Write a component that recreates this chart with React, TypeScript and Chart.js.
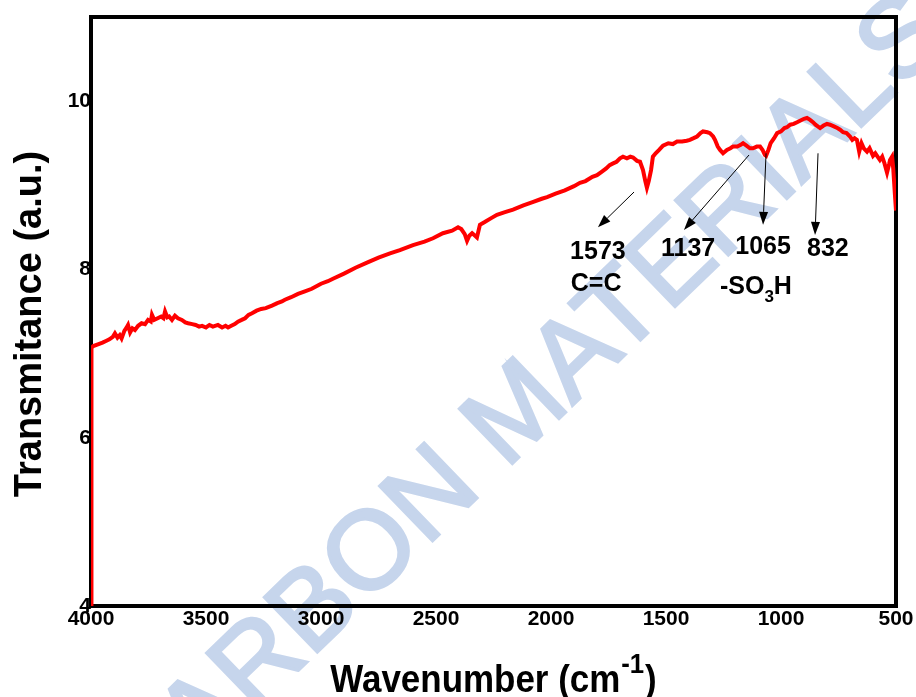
import React, { useEffect, useRef } from "react";
import { Chart, registerables } from "chart.js";

Chart.register(...registerables);

// ---- data ----
const wavenumbers = [
  4000, 3998, 3990, 3970, 3950, 3935, 3920, 3905, 3896, 3885, 3875, 3867, 3855, 3845, 3839, 3830, 3820, 3809,
  3795, 3780, 3765, 3752, 3740, 3735, 3725, 3710, 3695, 3685, 3678, 3668, 3660, 3648, 3635, 3622, 3605, 3590,
  3578, 3560, 3545, 3530, 3517, 3500, 3485, 3470, 3448, 3430, 3415, 3404, 3390, 3375, 3361, 3345, 3330, 3315,
  3300, 3280, 3260, 3240, 3213, 3190, 3170, 3157, 3130, 3100, 3070, 3040, 3000, 2970, 2948, 2900, 2850, 2800,
  2750, 2700, 2657, 2600, 2550, 2513, 2470, 2430, 2404, 2390, 2375, 2365, 2355, 2343, 2330, 2322, 2309, 2290,
  2260, 2235, 2200, 2165, 2120, 2080, 2040, 2017, 1980, 1940, 1900, 1874, 1850, 1820, 1800, 1780, 1760, 1745,
  1730, 1715, 1700, 1687, 1670, 1655, 1643, 1626, 1613, 1600, 1590, 1583, 1575, 1565, 1557, 1545, 1530, 1513,
  1490, 1470, 1452, 1430, 1410, 1396, 1380, 1365, 1350, 1339, 1320, 1309, 1295, 1287, 1275, 1265, 1252, 1235,
  1220, 1209, 1190, 1175, 1165, 1150, 1135, 1122, 1105, 1091, 1080, 1070, 1065, 1055, 1045, 1030, 1017, 1000,
  985, 974, 960, 945, 930, 915, 900, 887, 875, 861, 850, 840, 830, 815, 800, 787, 770, 755, 743, 730, 715, 700,
  690, 680, 670, 660, 650, 640, 626, 615, 600, 590, 570, 560, 550, 539, 530, 526, 517, 512, 505, 500,
];
const transmittance = [
  4.0, 7.07, 7.09, 7.11, 7.13, 7.15, 7.17, 7.2, 7.24, 7.19, 7.22, 7.18, 7.27, 7.31, 7.34, 7.25, 7.3, 7.28,
  7.33, 7.36, 7.35, 7.4, 7.38, 7.46, 7.4, 7.42, 7.44, 7.42, 7.5, 7.43, 7.44, 7.4, 7.45, 7.42, 7.4, 7.37,
  7.36, 7.35, 7.34, 7.32, 7.33, 7.31, 7.34, 7.32, 7.34, 7.31, 7.33, 7.31, 7.33, 7.35, 7.38, 7.4, 7.42, 7.46,
  7.48, 7.51, 7.53, 7.54, 7.57, 7.6, 7.62, 7.64, 7.67, 7.71, 7.74, 7.77, 7.83, 7.86, 7.89, 7.95, 8.02, 8.08,
  8.14, 8.19, 8.23, 8.29, 8.33, 8.37, 8.43, 8.46, 8.5, 8.48, 8.42, 8.34, 8.4, 8.43, 8.4, 8.38, 8.53, 8.56,
  8.61, 8.65, 8.68, 8.71, 8.76, 8.8, 8.84, 8.86, 8.9, 8.94, 8.99, 9.03, 9.05, 9.1, 9.12, 9.16, 9.2, 9.24,
  9.26, 9.28, 9.32, 9.34, 9.32, 9.34, 9.33, 9.29, 9.28, 9.18, 9.05, 8.97, 9.05, 9.18, 9.34, 9.38, 9.42, 9.47,
  9.5, 9.49, 9.52, 9.52, 9.53, 9.54, 9.56, 9.58, 9.62, 9.64, 9.63, 9.62, 9.58, 9.54, 9.46, 9.42, 9.38, 9.42,
  9.44, 9.46, 9.46, 9.48, 9.5, 9.47, 9.44, 9.44, 9.46, 9.46, 9.42, 9.36, 9.35, 9.42, 9.5, 9.56, 9.62, 9.64,
  9.68, 9.69, 9.72, 9.73, 9.75, 9.77, 9.79, 9.8, 9.78, 9.75, 9.72, 9.7, 9.68, 9.71, 9.73, 9.72, 9.7, 9.68, 9.66, 9.63, 9.62, 9.58,
  9.54, 9.56, 9.54, 9.4, 9.5, 9.44, 9.4, 9.44, 9.35, 9.38, 9.3, 9.34, 9.26, 9.15, 9.25, 9.3, 9.34, 9.2, 8.9, 8.7,
];
const xTickValues = [4000, 3500, 3000, 2500, 2000, 1500, 1000, 500];
const yTickValues = [4, 6, 8, 10];

// peak annotations: label text, arrow tail/head (wavenumber, value), label anchor
const peakLabels = ["1573", "1137", "1065", "832"];
const peakArrowFrom = [[1639, 8.92], [1139, 9.36], [1065, 9.38], [839, 9.38]];
const peakArrowTo = [[1796, 8.5], [1422, 8.47], [1078, 8.53], [852, 8.41]];
const peakLabelAt = [[1796, 8.21], [1404, 8.24], [1078, 8.27], [796, 8.24]];
const groupLabelC = "C=C";
const groupLabelCAt = [1804, 7.82];
const groupLabelS = ["-SO", "3", "H"];
const groupLabelSAt = [1109, 7.82];

const xTitle = ["Wavenumber (cm", "-1", ")"];
const yTitle = "Transmitance (a.u.)";
const watermark = "CARBON MATERIALS";

const FONT = '"Liberation Sans", Arial, Helvetica, sans-serif';

function drawArrow(ctx: CanvasRenderingContext2D, x1: number, y1: number, x2: number, y2: number) {
  const ang = Math.atan2(y2 - y1, x2 - x1);
  const len = 13;
  const hw = 4.5;
  const bx = x2 - len * Math.cos(ang);
  const by = y2 - len * Math.sin(ang);
  ctx.beginPath();
  ctx.moveTo(x1, y1);
  ctx.lineTo(bx, by);
  ctx.stroke();
  ctx.beginPath();
  ctx.moveTo(x2, y2);
  ctx.lineTo(bx + hw * Math.sin(ang), by - hw * Math.cos(ang));
  ctx.lineTo(bx - hw * Math.sin(ang), by + hw * Math.cos(ang));
  ctx.closePath();
  ctx.fill();
}

const overlayPlugin = {
  id: "overlay",
  beforeDraw(chart: any) {
    const ctx: CanvasRenderingContext2D = chart.ctx;
    ctx.save();
    ctx.fillStyle = "#ffffff";
    ctx.fillRect(0, 0, chart.width, chart.height);
    ctx.translate(526, 408);
    ctx.rotate((-44 * Math.PI) / 180);
    ctx.font = `111px ${FONT}`;
    ctx.fillStyle = "#c6d5ec";
    ctx.strokeStyle = "#c6d5ec";
    ctx.lineWidth = 3;
    ctx.textAlign = "center";
    ctx.textBaseline = "middle";
    ctx.fillText(watermark, 0, 0);
    ctx.strokeText(watermark, 0, 0);
    ctx.restore();
  },
  beforeDatasetsDraw(chart: any) {
    const ctx: CanvasRenderingContext2D = chart.ctx;
    const a = chart.chartArea;
    ctx.save();
    ctx.strokeStyle = "#000";
    ctx.lineWidth = 4;
    ctx.strokeRect(a.left, a.top, a.right - a.left, a.bottom - a.top);
    ctx.restore();
  },
  afterDraw(chart: any) {
    const ctx: CanvasRenderingContext2D = chart.ctx;
    const x = chart.scales.x;
    const y = chart.scales.y;
    const a = chart.chartArea;
    ctx.save();
    ctx.strokeStyle = "#000";
    ctx.fillStyle = "#000";
    ctx.lineWidth = 1;
    for (let i = 0; i < peakLabels.length; i++) {
      drawArrow(
        ctx,
        x.getPixelForValue(peakArrowFrom[i][0]),
        y.getPixelForValue(peakArrowFrom[i][1]),
        x.getPixelForValue(peakArrowTo[i][0]),
        y.getPixelForValue(peakArrowTo[i][1])
      );
    }
    ctx.font = `bold 25px ${FONT}`;
    ctx.textAlign = "center";
    ctx.textBaseline = "middle";
    for (let i = 0; i < peakLabels.length; i++) {
      ctx.fillText(peakLabels[i], x.getPixelForValue(peakLabelAt[i][0]), y.getPixelForValue(peakLabelAt[i][1]));
    }
    ctx.fillText(groupLabelC, x.getPixelForValue(groupLabelCAt[0]), y.getPixelForValue(groupLabelCAt[1]));
    // -SO3H with subscript
    {
      const fMain = `bold 25px ${FONT}`;
      const fSub = `bold 17px ${FONT}`;
      ctx.font = fMain;
      const w1 = ctx.measureText(groupLabelS[0]).width;
      const w3 = ctx.measureText(groupLabelS[2]).width;
      ctx.font = fSub;
      const w2 = ctx.measureText(groupLabelS[1]).width;
      const cx = x.getPixelForValue(groupLabelSAt[0]);
      const cy = y.getPixelForValue(groupLabelSAt[1]);
      let sx = cx - (w1 + w2 + w3) / 2;
      ctx.textAlign = "left";
      ctx.textBaseline = "alphabetic";
      const base = cy + 9;
      ctx.font = fMain;
      ctx.fillText(groupLabelS[0], sx, base);
      sx += w1;
      ctx.font = fSub;
      ctx.fillText(groupLabelS[1], sx, base + 8);
      sx += w2;
      ctx.font = fMain;
      ctx.fillText(groupLabelS[2], sx, base);
    }
    // y title
    ctx.save();
    ctx.translate(31, 324);
    ctx.rotate(-Math.PI / 2);
    ctx.font = `bold 38px ${FONT}`;
    ctx.textAlign = "center";
    ctx.textBaseline = "middle";
    ctx.fillText(yTitle, 0, 0);
    ctx.restore();
    // x title with superscript
    {
      const fMain = `bold 38px ${FONT}`;
      const fSup = `bold 28px ${FONT}`;
      const sxScale = 0.92;
      ctx.font = fMain;
      const w1 = ctx.measureText(xTitle[0]).width;
      const w3 = ctx.measureText(xTitle[2]).width;
      ctx.font = fSup;
      const w2 = ctx.measureText(xTitle[1]).width + 2;
      const total = (w1 + w2 + w3) * sxScale;
      const cx = (a.left + a.right) / 2;
      ctx.save();
      ctx.translate(cx - total / 2, 692);
      ctx.scale(sxScale, 1);
      ctx.textAlign = "left";
      ctx.textBaseline = "alphabetic";
      ctx.font = fMain;
      ctx.fillText(xTitle[0], 0, 0);
      ctx.font = fSup;
      ctx.fillText(xTitle[1], w1 + 1, -19);
      ctx.font = fMain;
      ctx.fillText(xTitle[2], w1 + w2, 0);
      ctx.restore();
    }
    ctx.restore();
  },
};

export default function App() {
  const canvasRef = useRef<HTMLCanvasElement | null>(null);

  useEffect(() => {
    const canvas = canvasRef.current;
    if (!canvas) return;
    const points = wavenumbers.map((w, i) => ({ x: w, y: transmittance[i] }));
    const chart = new Chart(canvas, {
      type: "line",
      data: {
        datasets: [
          {
            data: points,
            borderColor: "#ff0000",
            borderWidth: 4,
            pointRadius: 0,
            tension: 0,
            fill: false,
          },
        ],
      },
      options: {
        animation: false,
        responsive: false,
        devicePixelRatio: 1,
        parsing: false as any,
        layout: { padding: { top: 17, right: 20, bottom: 0, left: 0 } },
        plugins: { legend: { display: false }, tooltip: { enabled: false } },
        scales: {
          x: {
            type: "linear",
            min: 500,
            max: 4000,
            reverse: true,
            grid: { display: false, drawTicks: false },
            border: { display: false },
            afterBuildTicks: (s: any) => {
              s.ticks = xTickValues.map((v) => ({ value: v }));
            },
            afterFit: (s: any) => {
              s.height = 91;
            },
            ticks: {
              padding: 1,
              maxRotation: 0,
              autoSkip: false,
              color: "#000",
              font: { family: FONT, size: 21, weight: "bold" },
              callback: (v: any) => String(v),
            },
          },
          y: {
            type: "linear",
            min: 4,
            max: 11,
            grid: { display: false, drawTicks: false },
            border: { display: false },
            afterBuildTicks: (s: any) => {
              s.ticks = yTickValues.map((v) => ({ value: v }));
            },
            afterFit: (s: any) => {
              s.width = 91;
            },
            ticks: {
              padding: 0,
              color: "#000",
              font: { family: FONT, size: 21, weight: "bold" },
              callback: (v: any) => String(v),
            },
          },
        },
      },
      plugins: [overlayPlugin],
    });
    return () => chart.destroy();
  }, []);

  return (
    <div style={{ position: "absolute", left: 0, top: 0, width: 916, height: 697 }}>
      <canvas ref={canvasRef} width={916} height={697} style={{ display: "block" }} />
    </div>
  );
}
